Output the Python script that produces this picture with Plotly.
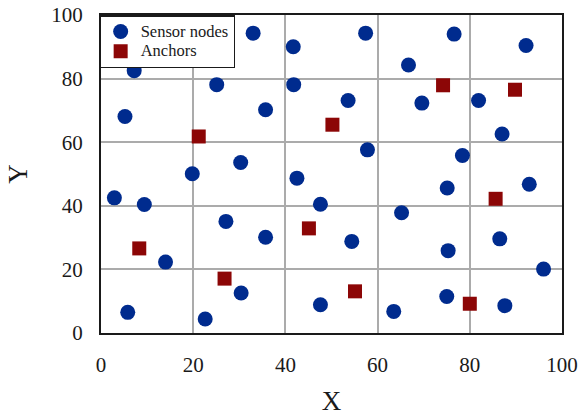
import plotly.graph_objects as go

# Sensor node positions
sensor_x = [33.0, 41.7, 7.2, 25.1, 41.8, 5.2, 35.7, 30.3, 19.8, 42.5,
            2.9, 9.4, 57.4, 76.6, 92.2, 66.7, 53.6, 69.6, 81.9, 87.0,
            57.8, 78.4, 92.9, 75.1, 47.6, 65.2, 27.1, 35.7, 14.0, 30.4,
            5.8, 22.6, 54.4, 75.3, 86.5, 96.0, 75.0, 47.6, 63.5, 87.6]
sensor_y = [94.3, 90.0, 82.5, 78.1, 78.1, 68.1, 70.2, 53.6, 50.1, 48.7,
            42.5, 40.4, 94.3, 94.0, 90.4, 84.3, 73.1, 72.3, 73.1, 62.6,
            57.6, 55.8, 46.8, 45.6, 40.5, 37.8, 35.1, 30.1, 22.3, 12.6,
            6.5, 4.4, 28.8, 25.9, 29.6, 20.1, 11.5, 8.9, 6.8, 8.6]

# Anchor positions
anchor_x = [21.2, 50.2, 74.2, 89.8, 85.6, 8.3, 26.8, 45.1, 55.1, 80.0]
anchor_y = [61.8, 65.5, 77.9, 76.5, 42.2, 26.6, 17.1, 32.9, 13.1, 9.2]

tick_vals = [0, 20, 40, 60, 80, 100]

FONT = "Liberation Serif"
INK = "#1a1a1a"


def legend_label(text):
    # larger glyphs than the legend base font, keeping entries compact
    return f'<span style="font-size:16.5px">{text}</span>'


fig = go.Figure()
fig.add_trace(go.Scatter(
    x=sensor_x, y=sensor_y, mode="markers", name=legend_label("Sensor nodes"),
    marker=dict(symbol="circle", size=15, color="#002b8e", line=dict(width=0)),
))
fig.add_trace(go.Scatter(
    x=anchor_x, y=anchor_y, mode="markers", name=legend_label("Anchors"),
    marker=dict(symbol="square", size=14, color="#8c0606", line=dict(width=0)),
))

axis_common = dict(
    range=[0, 100], tickvals=tick_vals, showgrid=True, gridcolor="#ababab",
    gridwidth=1.5, zeroline=False, showline=True, linecolor=INK,
    linewidth=2, mirror=True, ticks="", automargin=False,
    tickfont=dict(family=FONT, size=21, color=INK),
)

fig.update_layout(
    width=582, height=419,
    margin=dict(l=101, r=19.5, t=15.4, b=85.7),
    paper_bgcolor="white", plot_bgcolor="white",
    font=dict(family=FONT, color=INK),
    showlegend=True,
    legend=dict(
        x=-0.004, y=1, xanchor="left", yanchor="top",
        bgcolor="white", bordercolor=INK, borderwidth=1.5,
        font=dict(family=FONT, size=13, color=INK),
        itemsizing="trace", tracegroupgap=0, itemwidth=30,
    ),
    xaxis=dict(**axis_common, ticklabelstandoff=12,
               title=dict(text="X", font=dict(family=FONT, size=27, color=INK), standoff=15)),
    yaxis=dict(**axis_common, ticklabelstandoff=12,
               title=dict(text="Y", font=dict(family=FONT, size=27, color=INK), standoff=16)),
)

fig.write_html("out.html")
